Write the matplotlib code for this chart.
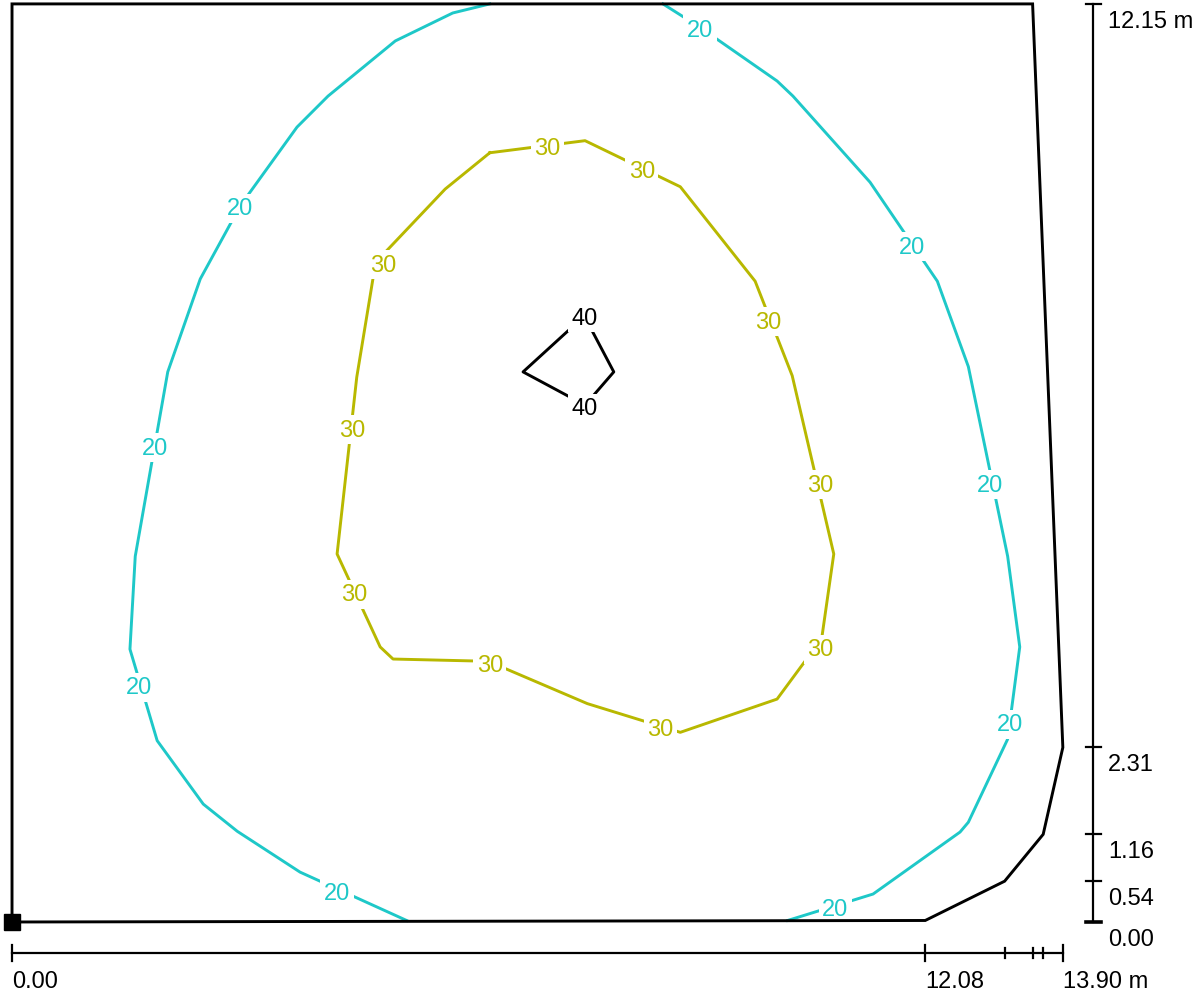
import matplotlib
matplotlib.use("Agg")
import matplotlib.pyplot as plt

plt.rcParams['font.family'] = ['Liberation Sans', 'DejaVu Sans']

# room outline (m)
room_x = [0.00, 0.00, 13.50, 13.90, 13.64, 13.13, 12.08, 0.00]
room_y = [0.00, 12.15, 12.15, 2.31, 1.16, 0.54, 0.02, 0.00]

# scale ticks
x_ticks = [0.00, 12.08, 13.13, 13.50, 13.64, 13.90]
x_tick_labels = ['0.00', '12.08', '', '', '', '13.90 m']
y_ticks = [0.00, 0.54, 1.16, 2.31, 12.15]
y_tick_labels = ['0.00', '0.54', '1.16', '2.31', '12.15 m']

# isoline 20 (two pieces, cut by the walls)
iso20a_x = [5.22, 3.81, 2.98, 2.53, 1.92, 1.56, 1.63, 2.06, 2.49, 3.02, 3.77, 4.18, 5.07, 5.83, 6.32]
iso20a_y = [0.02, 0.66, 1.20, 1.56, 2.40, 3.61, 4.84, 7.28, 8.51, 9.48, 10.52, 10.93, 11.66, 12.03, 12.15]
iso20b_x = [8.61, 9.10, 10.12, 10.33, 11.35, 12.24, 12.65, 13.17, 13.33, 13.17, 12.65, 12.54, 11.39, 10.26]
iso20b_y = [12.15, 11.84, 11.13, 10.93, 9.79, 8.48, 7.35, 4.84, 3.64, 2.42, 1.32, 1.19, 0.37, 0.02]
lab20_x = [3.02, 1.89, 1.68, 4.30, 10.89, 13.20, 12.94, 11.90, 9.10]
lab20_y = [9.48, 6.31, 3.14, 0.42, 0.21, 2.65, 5.82, 8.97, 11.84]

# isoline 30 (closed)
iso30_x = [6.32, 7.58, 8.84, 9.83, 10.32, 10.87, 10.71, 10.12, 8.84, 7.61, 6.30, 5.04, 4.87, 4.30, 4.56, 4.81, 5.73, 6.32]
iso30_y = [10.18, 10.34, 9.73, 8.48, 7.23, 4.87, 3.75, 2.95, 2.51, 2.89, 3.45, 3.48, 3.64, 4.87, 7.21, 8.73, 9.70, 10.18]
lab30_x = [7.08, 8.33, 10.00, 10.69, 10.69, 8.58, 6.32, 4.52, 4.50, 4.91]
lab30_y = [10.27, 9.97, 7.98, 5.82, 3.64, 2.59, 3.44, 4.37, 6.55, 8.73]

# isoline 40 (closed)
iso40_x = [7.57, 6.76, 7.58, 7.96, 7.57]
iso40_y = [8.02, 7.28, 6.84, 7.28, 8.02]
lab40_x = [7.58, 7.58]
lab40_y = [8.03, 6.83]

c20 = '#1ec8c8'
c30 = '#b8b800'
c40 = 'black'
fs = 17

fig = plt.figure(figsize=(12.03, 9.95), dpi=100)
ax = fig.add_axes([0, 0, 1, 1])
ax.set_xlim(-0.159, 15.754)
ax.set_ylim(-0.953, 12.215)
ax.axis('off')

# room
ax.plot(room_x, room_y, color='black', lw=2.1, solid_joinstyle='miter', zorder=6)
ax.plot([0], [0], marker='s', ms=11.5, color='black', zorder=7)

# isolines
ax.plot(iso20a_x, iso20a_y, color=c20, lw=2.1, zorder=2)
ax.plot(iso20b_x, iso20b_y, color=c20, lw=2.1, zorder=2)
ax.plot(iso30_x, iso30_y, color=c30, lw=2.1, zorder=2)
ax.plot(iso40_x, iso40_y, color=c40, lw=2.1, zorder=2)

box = dict(boxstyle='square,pad=0.15', fc='white', ec='none')
for labs_x, labs_y, txt, col in [(lab20_x, lab20_y, '20', c20),
                                  (lab30_x, lab30_y, '30', c30),
                                  (lab40_x, lab40_y, '40', c40)]:
    for x, y in zip(labs_x, labs_y):
        ax.text(x, y, txt, color=col, fontsize=fs, ha='center', va='center_baseline',
                bbox=box, zorder=5)

# bottom scale
ys = -0.41
ax.plot([x_ticks[0], x_ticks[-1]], [ys, ys], color='black', lw=1.6)
for x, lab in zip(x_ticks, x_tick_labels):
    h = 0.10 if lab else 0.06
    ax.plot([x, x], [ys - h, ys + h], color='black', lw=1.6)
    if lab:
        ax.text(x, -0.86, lab, fontsize=fs, ha='left', va='baseline')

# right scale
xs = 14.30
ax.plot([xs, xs], [y_ticks[0], y_ticks[-1]], color='black', lw=1.6)
for y, lab in zip(y_ticks, y_tick_labels):
    ax.plot([xs - 0.09, xs + 0.11], [y, y], color='black', lw=2.6 if y == 0 else 1.6)
    ax.text(14.50, y - 0.30, lab, fontsize=fs, ha='left', va='baseline')

fig.savefig('out.png', dpi=100)
